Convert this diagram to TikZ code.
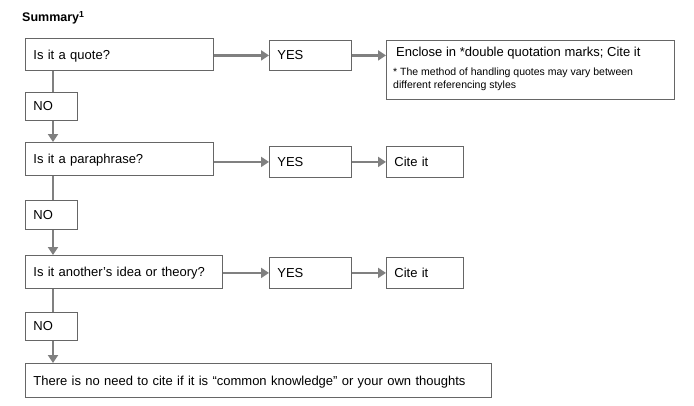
\documentclass[tikz,border=0pt]{standalone}
\usepackage{fontspec}
\setmainfont{Liberation Sans}
\usetikzlibrary{arrows.meta}
\begin{document}
\begin{tikzpicture}[x=1pt,y=1pt,
  box/.style={draw=black!60,line width=0.8pt,anchor=north west,inner xsep=8pt,inner ysep=0pt,align=left,font=\fontsize{13}{15}\selectfont,text depth=0pt},
  arr/.style={draw=black!50,line width=2.4pt,-{Triangle[length=8pt,width=10pt]}},
  ln/.style={draw=black!50,line width=2.4pt}]
\useasboundingbox (0,0) rectangle (694,-405);
\node[anchor=west,font=\bfseries\fontsize{12.5}{14}\selectfont,inner sep=0pt] (title) at (22,-18) {Summary\textsuperscript{1}};
\node[box,minimum width=188,minimum height=32,text width=172] (q) at (25,-38) {Is it a quote?};
\node[box,minimum width=82,minimum height=30,text width=66] (y1) at (269,-40) {YES};
\node[box,minimum width=288,minimum height=59,text width=272,anchor=north west] (e) at (386,-40) {};
\node[anchor=north west,font=\fontsize{13}{15}\selectfont,inner sep=0pt] (et) at (396,-47) {Enclose in *double quotation marks; Cite it};
\node[anchor=north west,align=left,font=\fontsize{10.5}{13}\selectfont,inner sep=0pt] (en) at (393,-68) {* The method of handling quotes may vary between\\different referencing styles};
\node[box,minimum width=52,minimum height=28,text width=36] (n1) at (25,-92) {NO};
\node[box,minimum width=188,minimum height=33,text width=172] (p) at (25,-142) {Is it a paraphrase?};
\node[box,minimum width=82,minimum height=31,text width=66] (y2) at (269,-146) {YES};
\node[box,minimum width=77,minimum height=31,text width=61] (c2) at (386,-146) {Cite it};
\node[box,minimum width=52,minimum height=29,text width=36] (n2) at (25,-200) {NO};
\node[box,minimum width=197,minimum height=33,text width=181] (i) at (25,-255) {Is it another’s idea or theory?};
\node[box,minimum width=82,minimum height=31,text width=66] (y3) at (269,-257) {YES};
\node[box,minimum width=77,minimum height=31,text width=61] (c3) at (386,-257) {Cite it};
\node[box,minimum width=52,minimum height=28,text width=36] (n3) at (25,-312) {NO};
\node[box,minimum width=466,minimum height=34,text width=450] (f) at (25,-363) {There is no need to cite if it is “common knowledge” or your own thoughts};
\draw[arr] (q.east |- y1.west) -- (y1.west);
\draw[arr] (y1) -- (y1.east -| e.west);
\draw[arr] (p.east |- y2.west) -- (y2.west);
\draw[arr] (y2) -- (c2);
\draw[arr] (i.east |- y3.west) -- (y3.west);
\draw[arr] (y3) -- (c3);
\draw[ln] ([xshift=28pt]q.south west) -- ([xshift=28pt]n1.north west);
\draw[arr] ([xshift=28pt]n1.south west) -- ([xshift=28pt]p.north west);
\draw[ln] ([xshift=28pt]p.south west) -- ([xshift=28pt]n2.north west);
\draw[arr] ([xshift=28pt]n2.south west) -- ([xshift=28pt]i.north west);
\draw[ln] ([xshift=28pt]i.south west) -- ([xshift=28pt]n3.north west);
\draw[arr] ([xshift=28pt]n3.south west) -- ([xshift=28pt]f.north west);
\end{tikzpicture}
\end{document}
